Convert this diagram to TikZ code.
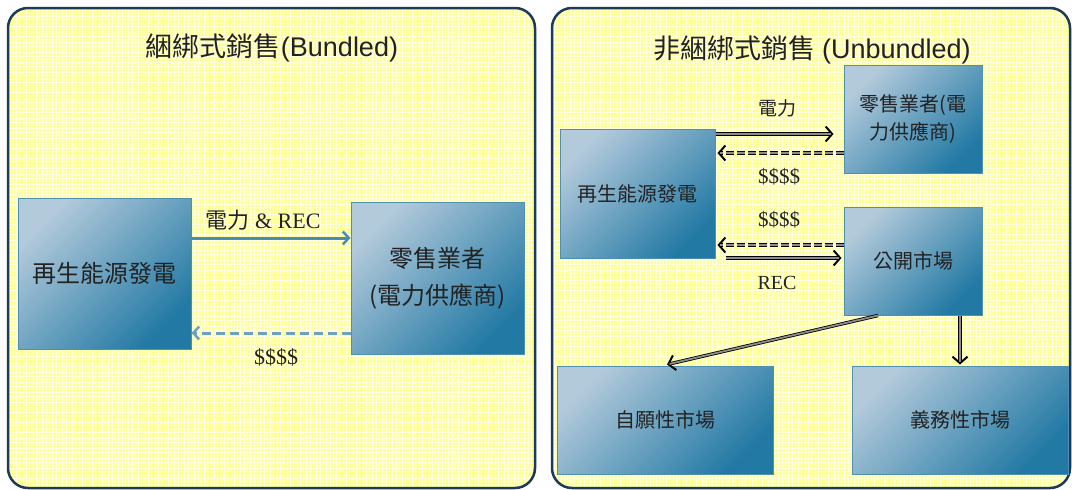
\documentclass[tikz,border=0pt]{standalone}
\usepackage{fontspec}
\setmainfont{Liberation Serif}
\newfontfamily\cjk{Noto Sans CJK TC}
\newfontfamily\asans{Liberation Sans}
\usetikzlibrary{arrows.meta,calc}
\definecolor{panelfill}{HTML}{FFFF99}
\definecolor{gridc}{HTML}{FFFFDC}
\definecolor{panelborder}{HTML}{1B3A5C}
\definecolor{boxlight}{HTML}{B3CADB}
\definecolor{boxdark}{HTML}{2279A4}
\definecolor{boxborder}{HTML}{4F8FB2}
\definecolor{bluearrow}{HTML}{4B8DAE}
\definecolor{bluedash}{HTML}{6FA0BF}
\definecolor{innergray}{HTML}{8C8C8C}
\definecolor{txt}{HTML}{222222}
\begin{document}
\begin{tikzpicture}[x=1pt,y=-1pt,
  panel/.style={rounded corners=20pt},
  bx/.style={rectangle, draw=boxborder, line width=1pt, top color=boxlight, bottom color=boxdark, shading angle=45, text=txt, align=center, inner sep=0pt},
  bigtxt/.style={font=\cjk\fontsize{24}{37}\selectfont},
  smtxt/.style={font=\cjk\fontsize{20}{28}\selectfont},
  ttl/.style={text=txt, font=\fontsize{27}{30}\selectfont},
  lbl/.style={text=txt, inner sep=0pt},
  blarrow/.style={bluearrow, line width=3pt, -{Straight Barb[length=6pt,width=13pt,line width=2.5pt]}},
  bldash/.style={bluedash, line width=3pt, dash pattern=on 9pt off 5pt, -{Straight Barb[length=6pt,width=13pt,line width=2.5pt]}},
  dbl/.style={draw=black, line width=3.4pt, -{Straight Barb[length=6.5pt,width=15pt,line width=2pt]}, postaction={draw=innergray, line width=1.8pt, -, shorten >=2.5pt}},
  dbldash/.style={dbl, dash pattern=on 8pt off 3pt}
]
\useasboundingbox (0,0) rectangle (1072,490);
\fill[white] (0,0) rectangle (1072,490);
% panels
\begin{scope}
\clip[panel] (8,8) rectangle (535,488);
\fill[panelfill] (8,8) rectangle (535,488);
\draw[gridc, line width=0.9pt, step=3.3pt] (8,8) grid (535,488);
\end{scope}
\draw[panel, panelborder, line width=2.5pt] (8,8) rectangle (535,488);
\begin{scope}
\clip[panel] (552,8) rectangle (1070,488);
\fill[panelfill] (552,8) rectangle (1070,488);
\draw[gridc, line width=0.9pt, step=3.3pt] (552,8) grid (1070,488);
\end{scope}
\draw[panel, panelborder, line width=2.5pt] (552,8) rectangle (1070,488);

% titles
\node[ttl] (t1) at (272,48) {{\cjk 綑綁式銷售}{\asans(Bundled)}};
\node[ttl] (t2) at (812,50) {{\cjk 非綑綁式銷售} {\asans(Unbundled)}};

% left boxes
\node[bx, bigtxt, minimum width=173pt, minimum height=151pt] (A) at (104.5,273.5) {再生能源發電};
\node[bx, bigtxt, minimum width=173pt, minimum height=152pt] (B) at (437.5,278) {零售業者\\(電力供應商)};

% right boxes
\node[bx, smtxt, minimum width=155pt, minimum height=129pt] (C) at (637.5,193.5) {再生能源發電};
\node[bx, smtxt, minimum width=138pt, minimum height=108pt] (D) at (913,119) {零售業者(電\\力供應商)};
\node[bx, smtxt, minimum width=138pt, minimum height=108pt] (E) at (913,261) {公開市場};
\node[bx, smtxt, minimum width=216pt, minimum height=108pt] (F) at (665,420) {自願性市場};
\node[bx, smtxt, minimum width=216pt, minimum height=108pt] (G) at (960,420) {義務性市場};

% left arrows
\draw[blarrow] (A.east |- 0,238) -- (B.west |- 0,238);
\draw[bldash] (B.west |- 0,333) -- (A.east |- 0,333);
\node[lbl, font=\fontsize{22}{26}\selectfont] (l1) at (263,220) {{\cjk 電力} \& REC};
\node[lbl, font=\fontsize{22}{26}\selectfont] (l2) at (276,357) {\$\$\$\$};

% right arrows
\draw[dbl] (C.east |- 0,134) -- ($(D.west |- 0,134)+(-10,0)$);
\draw[dbldash] (D.west |- 0,153) -- ($(C.east |- 0,153)+(2,0)$);
\draw[dbldash] (E.west |- 0,245) -- ($(C.east |- 0,245)+(2,0)$);
\draw[dbl] ($(C.east |- 0,258)+(10,0)$) -- ($(E.west |- 0,258)+(-2,0)$);
\draw[dbl] (878,0 |- E.south) -- ($(667,0 |- F.north)+(0,-1)$);
\draw[dbl] (E.south -| G.north) -- ($(G.north)+(0,-1)$);
\node[lbl, font=\cjk\fontsize{19}{22}\selectfont] (r1) at (777,108) {電力};
\node[lbl, font=\fontsize{21}{24}\selectfont] (r2) at (779,177) {\$\$\$\$};
\node[lbl, font=\fontsize{21}{24}\selectfont] (r3) at (779,220) {\$\$\$\$};
\node[lbl, font=\fontsize{20}{24}\selectfont] (r4) at (777,283) {REC};
\end{tikzpicture}
\end{document}
